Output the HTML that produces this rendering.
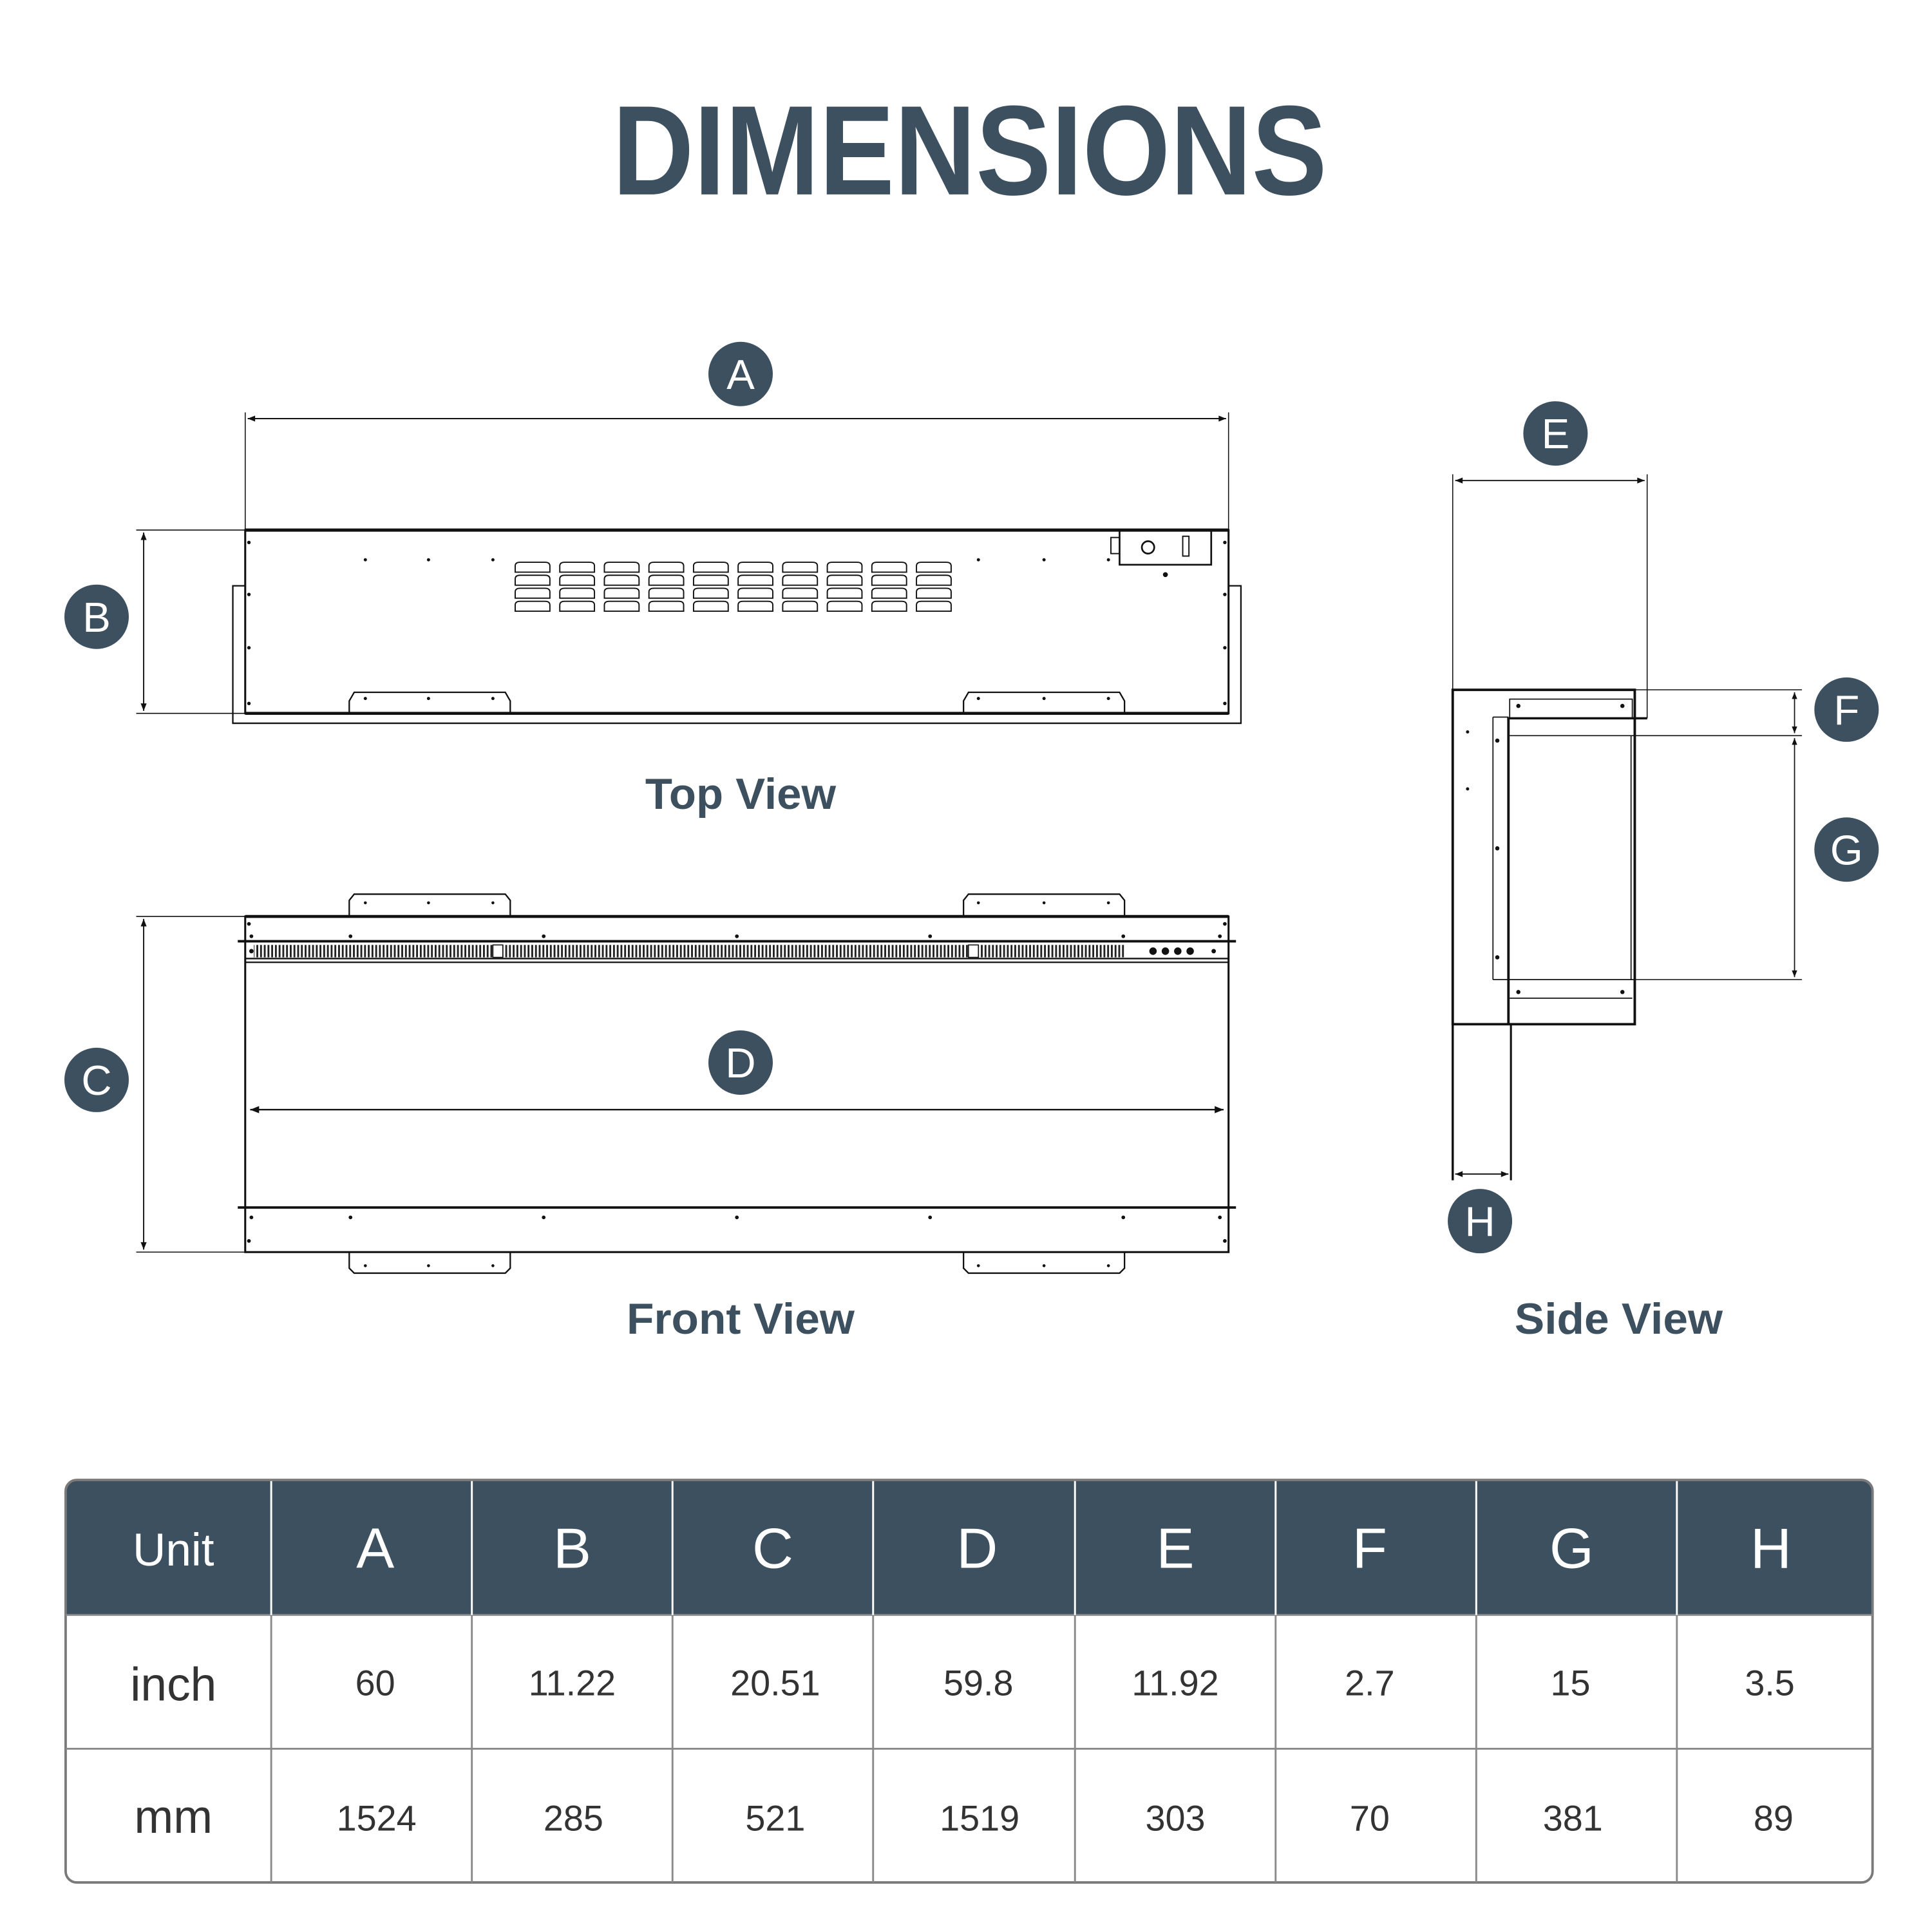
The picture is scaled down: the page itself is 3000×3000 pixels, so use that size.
<!DOCTYPE html>
<html><head><meta charset="utf-8"><style>
html,body{margin:0;padding:0;background:#fff;}
svg{display:block;}
</style></head><body>
<svg width="3000" height="3000" viewBox="0 0 1560 1560" xmlns="http://www.w3.org/2000/svg" font-family="Liberation Sans, sans-serif">
<defs>
<pattern id="hatch" width="3" height="12" patternUnits="userSpaceOnUse">
<rect x="0" y="0" width="1.5" height="12" fill="#222"/>
</pattern>
<marker id="ar" viewBox="0 0 10 10" refX="10" refY="5" markerWidth="8" markerHeight="6" orient="auto-start-reverse"><path d="M0,1 L10,5 L0,9 z" fill="#111"/></marker>
</defs>
<rect width="1560" height="1560" fill="#fff"/>
<text x="783" y="157" font-size="103" font-weight="bold" fill="#3d5060" text-anchor="middle" textLength="577" lengthAdjust="spacingAndGlyphs">DIMENSIONS</text>

<!-- TOP VIEW -->
<g stroke="#111" fill="none">
<line x1="198" y1="333" x2="198" y2="428" stroke-width="0.8"/>
<line x1="992" y1="333" x2="992" y2="428" stroke-width="0.8"/>
<line x1="200" y1="338" x2="990" y2="338" stroke-width="1" marker-start="url(#ar)" marker-end="url(#ar)"/>
<line x1="110" y1="428" x2="198" y2="428" stroke-width="0.8"/>
<line x1="110" y1="576" x2="198" y2="576" stroke-width="0.8"/>
<line x1="116" y1="430" x2="116" y2="574" stroke-width="1" marker-start="url(#ar)" marker-end="url(#ar)"/>
<rect x="198" y="428" width="794" height="148" stroke-width="1.6"/>
<line x1="198" y1="428" x2="992" y2="428" stroke-width="2.6"/>
<line x1="198" y1="576" x2="992" y2="576" stroke-width="2.4"/>
<path d="M198,473 H188 V584 H1002 V473 H992" stroke-width="1.2"/>
<rect x="904" y="428" width="74" height="28" stroke-width="1.4"/>
<rect x="897" y="434" width="7" height="13" stroke-width="1"/>
<rect x="955" y="433" width="5" height="16" stroke-width="1"/>
<circle cx="927" cy="442" r="5" stroke-width="1.4"/>
<path d="M282,576 V566 L286,559 H408 L412,566 V576" stroke-width="1.2"/>
<path d="M778,576 V566 L782,559 H904 L908,566 V576" stroke-width="1.2"/>
</g>
<g fill="#111">
<circle cx="295" cy="452" r="1.3"/><circle cx="346" cy="452" r="1.3"/><circle cx="398" cy="452" r="1.3"/>
<circle cx="790" cy="452" r="1.3"/><circle cx="843" cy="452" r="1.3"/><circle cx="895" cy="452" r="1.3"/>
<circle cx="941" cy="464" r="2"/>
<circle cx="201" cy="438" r="1.4"/><circle cx="201" cy="480" r="1.4"/><circle cx="201" cy="523" r="1.4"/><circle cx="201" cy="568" r="1.4"/>
<circle cx="989" cy="438" r="1.4"/><circle cx="989" cy="480" r="1.4"/><circle cx="989" cy="523" r="1.4"/><circle cx="989" cy="568" r="1.4"/>
<circle cx="295" cy="564" r="1.3"/><circle cx="346" cy="564" r="1.3"/><circle cx="398" cy="564" r="1.3"/>
<circle cx="790" cy="564" r="1.3"/><circle cx="843" cy="564" r="1.3"/><circle cx="895" cy="564" r="1.3"/>
</g>
<g stroke="#111" fill="none" stroke-width="1">
<!-- vents -->
<g id="vrow">
<path d="M416,462 V457 Q416,454 420,454 H440 Q444,454 444,457 V462 Z M452,462 V457 Q452,454 456,454 H476 Q480,454 480,457 V462 Z M488,462 V457 Q488,454 492,454 H512 Q516,454 516,457 V462 Z M524,462 V457 Q524,454 528,454 H548 Q552,454 552,457 V462 Z M560,462 V457 Q560,454 564,454 H584 Q588,454 588,457 V462 Z M596,462 V457 Q596,454 600,454 H620 Q624,454 624,457 V462 Z M632,462 V457 Q632,454 636,454 H656 Q660,454 660,457 V462 Z M668,462 V457 Q668,454 672,454 H692 Q696,454 696,457 V462 Z M704,462 V457 Q704,454 708,454 H728 Q732,454 732,457 V462 Z M740,462 V457 Q740,454 744,454 H764 Q768,454 768,457 V462 Z"/>
</g>
<use href="#vrow" y="10.5"/>
<use href="#vrow" y="21"/>
<use href="#vrow" y="31.5"/>
</g>
<text x="598" y="653" font-size="35" font-weight="bold" fill="#3d5060" text-anchor="middle" textLength="154" lengthAdjust="spacingAndGlyphs">Top View</text>

<!-- FRONT VIEW -->
<g stroke="#111" fill="none">
<line x1="110" y1="740" x2="198" y2="740" stroke-width="0.8"/>
<line x1="110" y1="1011" x2="198" y2="1011" stroke-width="0.8"/>
<line x1="116" y1="742" x2="116" y2="1009" stroke-width="1" marker-start="url(#ar)" marker-end="url(#ar)"/>
<rect x="198" y="740" width="794" height="271" stroke-width="1.6"/>
<line x1="198" y1="740" x2="992" y2="740" stroke-width="2.4"/>
<line x1="192" y1="760" x2="998" y2="760" stroke-width="2"/>
<line x1="198" y1="774" x2="992" y2="774" stroke-width="1.2"/>
<line x1="198" y1="777" x2="992" y2="777" stroke-width="1.2"/>
<line x1="192" y1="975" x2="998" y2="975" stroke-width="2"/>
<line x1="202" y1="896" x2="988" y2="896" stroke-width="1.2" marker-start="url(#ar)" marker-end="url(#ar)"/>
<path d="M282,740 V727 L286,722 H408 L412,727 V740" stroke-width="1.2"/>
<path d="M778,740 V727 L782,722 H904 L908,727 V740" stroke-width="1.2"/>
<path d="M282,1011 V1024 L286,1028 H408 L412,1024 V1011" stroke-width="1.2"/>
<path d="M778,1011 V1024 L782,1028 H904 L908,1024 V1011" stroke-width="1.2"/>
</g>
<rect x="205" y="763" width="703" height="10" fill="url(#hatch)"/>
<rect x="398" y="763" width="8" height="10" fill="#fff" stroke="#111" stroke-width="0.8"/>
<rect x="782" y="763" width="8" height="10" fill="#fff" stroke="#111" stroke-width="0.8"/>
<g fill="#111">
<circle cx="931" cy="768" r="3"/><circle cx="941" cy="768" r="3"/><circle cx="951" cy="768" r="3"/><circle cx="961" cy="768" r="3"/>
<circle cx="980" cy="768" r="1.8"/><circle cx="203" cy="768" r="1.8"/>
<circle cx="201" cy="746" r="1.5"/><circle cx="989" cy="746" r="1.5"/>
<circle cx="203" cy="756" r="1.5"/><circle cx="283" cy="756" r="1.5"/><circle cx="439" cy="756" r="1.5"/><circle cx="595" cy="756" r="1.5"/><circle cx="751" cy="756" r="1.5"/><circle cx="907" cy="756" r="1.5"/><circle cx="985" cy="756" r="1.5"/>
<circle cx="203" cy="983" r="1.5"/><circle cx="283" cy="983" r="1.5"/><circle cx="439" cy="983" r="1.5"/><circle cx="595" cy="983" r="1.5"/><circle cx="751" cy="983" r="1.5"/><circle cx="907" cy="983" r="1.5"/><circle cx="985" cy="983" r="1.5"/>
<circle cx="201" cy="1002" r="1.5"/><circle cx="989" cy="1002" r="1.5"/>
<circle cx="295" cy="729" r="1.2"/><circle cx="346" cy="729" r="1.2"/><circle cx="398" cy="729" r="1.2"/>
<circle cx="790" cy="729" r="1.2"/><circle cx="843" cy="729" r="1.2"/><circle cx="895" cy="729" r="1.2"/>
<circle cx="295" cy="1022" r="1.2"/><circle cx="346" cy="1022" r="1.2"/><circle cx="398" cy="1022" r="1.2"/>
<circle cx="790" cy="1022" r="1.2"/><circle cx="843" cy="1022" r="1.2"/><circle cx="895" cy="1022" r="1.2"/>
</g>
<text x="598" y="1077" font-size="35" font-weight="bold" fill="#3d5060" text-anchor="middle" textLength="184" lengthAdjust="spacingAndGlyphs">Front View</text>

<!-- SIDE VIEW -->
<g stroke="#111" fill="none">
<line x1="1173" y1="383" x2="1173" y2="557" stroke-width="0.8"/>
<line x1="1330" y1="383" x2="1330" y2="580" stroke-width="0.8"/>
<line x1="1175" y1="388" x2="1328" y2="388" stroke-width="1" marker-start="url(#ar)" marker-end="url(#ar)"/>
<line x1="1320" y1="557" x2="1455" y2="557" stroke-width="0.8"/>
<line x1="1219" y1="594" x2="1455" y2="594" stroke-width="0.8"/>
<line x1="1320" y1="791" x2="1455" y2="791" stroke-width="0.8"/>
<line x1="1449" y1="559" x2="1449" y2="592" stroke-width="0.9" marker-start="url(#ar)" marker-end="url(#ar)"/>
<line x1="1449" y1="596" x2="1449" y2="789" stroke-width="0.9" marker-start="url(#ar)" marker-end="url(#ar)"/>
<path d="M1173,557 H1320 V827 H1173 Z" stroke-width="2"/>
<line x1="1173" y1="827" x2="1173" y2="953" stroke-width="1.8"/>
<line x1="1220" y1="827" x2="1220" y2="953" stroke-width="1.6"/>
<line x1="1175" y1="948" x2="1218" y2="948" stroke-width="1" marker-start="url(#ar)" marker-end="url(#ar)"/>
<line x1="1217" y1="580" x2="1330" y2="580" stroke-width="1.8"/>
<rect x="1219" y="564.5" width="99" height="15.5" stroke-width="0.9"/>
<line x1="1218" y1="580" x2="1218" y2="827" stroke-width="2"/>
<line x1="1205.5" y1="579" x2="1205.5" y2="791" stroke-width="0.9"/>
<line x1="1205.5" y1="579" x2="1218" y2="579" stroke-width="0.9"/>
<line x1="1205.5" y1="791" x2="1320" y2="791" stroke-width="0.9"/>
<line x1="1317" y1="594" x2="1317" y2="791" stroke-width="0.9"/>
<line x1="1219" y1="806" x2="1318" y2="806" stroke-width="0.9"/>
</g>
<g fill="#111">
<circle cx="1185" cy="591" r="1.3"/><circle cx="1185" cy="637" r="1.3"/>
<circle cx="1209" cy="598" r="1.7"/><circle cx="1209" cy="685" r="1.7"/><circle cx="1209" cy="773" r="1.7"/>
<circle cx="1226" cy="570" r="1.7"/><circle cx="1310" cy="570" r="1.7"/>
<circle cx="1226" cy="801" r="1.7"/><circle cx="1310" cy="801" r="1.7"/>
</g>
<text x="1307" y="1077" font-size="35" font-weight="bold" fill="#3d5060" text-anchor="middle" textLength="168" lengthAdjust="spacingAndGlyphs">Side View</text>

<!-- circles -->
<g fill="#3d5060">
<circle cx="598" cy="302" r="26"/><circle cx="78" cy="498" r="26"/><circle cx="78" cy="872" r="26"/>
<circle cx="598" cy="858" r="26"/><circle cx="1256" cy="350" r="26"/><circle cx="1491" cy="573" r="26"/>
<circle cx="1491" cy="686" r="26"/><circle cx="1195" cy="986" r="26"/>
</g>
<g fill="#fff" font-size="34" text-anchor="middle">
<text x="598" y="314">A</text><text x="78" y="510">B</text><text x="78" y="884">C</text>
<text x="598" y="870">D</text><text x="1256" y="362">E</text><text x="1491" y="585">F</text>
<text x="1491" y="698">G</text><text x="1195" y="998">H</text>
</g>

<!-- TABLE -->
<clipPath id="tc"><rect x="53" y="1195" width="1459" height="325" rx="9"/></clipPath>
<g clip-path="url(#tc)">
<rect x="53" y="1195" width="1459" height="325" fill="#fff"/>
<rect x="53" y="1195" width="1459" height="109" fill="#3d5060"/>
</g>
<rect x="53" y="1195" width="1459" height="325" rx="9" fill="none" stroke="#7a7a7a" stroke-width="2"/>
<g stroke="#8a8a8a" stroke-width="1.5">
<line x1="53" y1="1304" x2="1512" y2="1304"/>
<line x1="53" y1="1412" x2="1512" y2="1412"/>
<line x1="219" y1="1195" x2="219" y2="1520"/><line x1="381" y1="1195" x2="381" y2="1520"/>
<line x1="543" y1="1195" x2="543" y2="1520"/><line x1="705" y1="1195" x2="705" y2="1520"/>
<line x1="868" y1="1195" x2="868" y2="1520"/><line x1="1030" y1="1195" x2="1030" y2="1520"/>
<line x1="1192" y1="1195" x2="1192" y2="1520"/><line x1="1354" y1="1195" x2="1354" y2="1520"/>
</g>
<g stroke="#fff" stroke-width="1.5">
<line x1="219" y1="1196" x2="219" y2="1304"/><line x1="381" y1="1196" x2="381" y2="1304"/>
<line x1="543" y1="1196" x2="543" y2="1304"/><line x1="705" y1="1196" x2="705" y2="1304"/>
<line x1="868" y1="1196" x2="868" y2="1304"/><line x1="1030" y1="1196" x2="1030" y2="1304"/>
<line x1="1192" y1="1196" x2="1192" y2="1304"/><line x1="1354" y1="1196" x2="1354" y2="1304"/>
</g>
<g fill="#fff" text-anchor="middle">
<text x="140" y="1264" font-size="37">Unit</text>
<g font-size="46"><text x="303" y="1266">A</text><text x="462" y="1266">B</text><text x="624" y="1266">C</text><text x="789" y="1266">D</text><text x="949" y="1266">E</text><text x="1106" y="1266">F</text><text x="1269" y="1266">G</text><text x="1430" y="1266">H</text></g>
</g>
<g fill="#333" text-anchor="middle">
<text x="140" y="1373" font-size="38">inch</text>
<text x="140" y="1480" font-size="38">mm</text>
<g font-size="29">
<text x="303" y="1369">60</text><text x="462" y="1369">11.22</text><text x="626" y="1369">20.51</text><text x="790" y="1369">59.8</text><text x="949" y="1369">11.92</text><text x="1106" y="1369">2.7</text><text x="1268" y="1369">15</text><text x="1429" y="1369">3.5</text>
<text x="304" y="1478">1524</text><text x="463" y="1478">285</text><text x="626" y="1478">521</text><text x="791" y="1478">1519</text><text x="949" y="1478">303</text><text x="1106" y="1478">70</text><text x="1270" y="1478">381</text><text x="1432" y="1478">89</text>
</g>
</g>
</svg>
</body></html>
